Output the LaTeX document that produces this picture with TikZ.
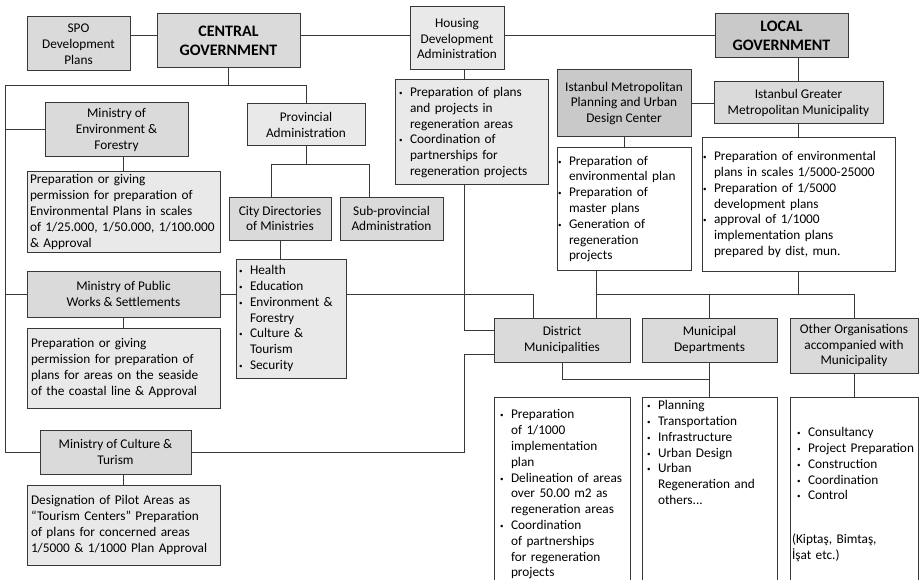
\documentclass[tikz,border=0pt]{standalone}
\usepackage{fontspec}
\setmainfont{Carlito}
\definecolor{boxlight}{gray}{0.915}
\definecolor{boxmid}{gray}{0.855}
\definecolor{boxdark}{gray}{0.79}
\definecolor{edge}{gray}{0.22}
% bullet and hanging indent for the task lists
\newcommand{\bul}{\makebox[11pt][l]{\raisebox{1pt}{\scriptsize\textbullet}}}
\newcommand{\ind}{\hspace*{11pt}}
\begin{document}
\begin{tikzpicture}[x=1pt, y=-1pt, font=\fontsize{13.3}{15.8}\selectfont,
    box/.style={draw=edge, line width=1pt, inner sep=3pt, align=center},
    hdr/.style={box, fill=boxmid},
    lite/.style={box, fill=boxlight},
    gov/.style={box, inner ysep=1pt, font=\fontsize{16}{19}\selectfont\bfseries},
    job/.style={box, fill=boxlight, align=left, inner xsep=4pt},
    duty/.style={box, fill=white, align=left, inner xsep=1pt},
    unit/.style={box, fill=white, align=left, anchor=north, minimum height=194pt},
    link/.style={draw=edge, line width=1pt}]
  \useasboundingbox (0,0) rectangle (920,580);
  \clip (0,0) rectangle (920,580);

  % top row
  \node[hdr, minimum width=103pt, minimum height=54pt] (spo) at (78.5,44) {SPO\\Development\\Plans};
  \node[gov, fill=boxmid, minimum width=143pt, minimum height=54pt] (cgov) at (228.5,41) {CENTRAL\\GOVERNMENT};
  \node[lite, minimum width=94pt, minimum height=63pt] (hda) at (457,38.5) {Housing\\Development\\Administration};
  \node[gov, fill=boxdark, minimum width=133pt, minimum height=44pt] (lgov) at (781.5,36) {LOCAL\\GOVERNMENT};

  % central government side
  \node[hdr, minimum width=143pt, minimum height=54pt] (mef) at (116.5,130) {Ministry of\\Environment \&\\Forestry};
  \node[job, inner xsep=3pt, text width=187pt, minimum height=80pt] (mefjob) at (123.5,212) {Preparation or giving\\permission for preparation of\\Environmental Plans in scales\\\mbox{of 1/25.000, 1/50.000, 1/100.000}\\\& Approval};
  \node[lite, minimum width=118pt, minimum height=42pt] (prov) at (306,125) {Provincial\\Administration};
  \node[hdr, minimum width=102pt, minimum height=43pt] (cdir) at (280,218.5) {City Directories\\of Ministries};
  \node[hdr, minimum width=103pt, minimum height=43pt] (subp) at (391.5,218.5) {Sub-provincial\\Administration};
  \node[job, inner xsep=3pt, text width=104pt, minimum height=119pt] (cdirjob) at (291,318.5) {\bul Health\\\bul Education\\\bul Environment \&\\\ind Forestry\\\bul Culture \&\\\ind Tourism\\\bul Security};
  \node[hdr, minimum width=193pt, minimum height=46pt] (mpw) at (123.5,294) {Ministry of Public\\Works \& Settlements};
  \node[job, text width=185pt, minimum height=80pt] (mpwjob) at (123.5,368) {Preparation or giving\\permission for preparation of\\plans for areas on the seaside\\of the coastal line \& Approval};
  \node[hdr, minimum width=151pt, minimum height=44pt] (mct) at (115.5,452) {Ministry of Culture \&\\Turism};
  \node[job, text width=185pt, minimum height=80pt] (mctjob) at (123.5,525) {Designation of Pilot Areas as\\“Tourism Centers” Preparation\\of plans for concerned areas\\1/5000 \& 1/1000 Plan Approval};
  \node[job, text width=145pt, minimum height=105pt] (hdajob) at (471.5,132.5) {\bul Preparation of plans\\\ind and projects in\\\ind regeneration areas\\\bul Coordination of\\\ind partnerships for\\\ind regeneration projects};

  % local government side
  \node[box, fill=boxdark, minimum width=134pt, minimum height=67pt] (impc) at (624,103.5) {Istanbul Metropolitan\\Planning and Urban\\Design Center};
  \node[hdr, minimum width=169pt, minimum height=42pt] (igmm) at (798.5,103) {Istanbul Greater\\Metropolitan Municipality};
  \node[duty, text width=132pt, minimum height=122pt] (impcjob) at (624,209) {\bul Preparation of\\\ind environmental plan\\\bul Preparation of\\\ind master plans\\\bul Generation of\\\ind regeneration\\\ind projects};
  \node[duty, text width=191pt, minimum height=133pt] (igmmjob) at (798.5,204.5) {\bul Preparation of environmental\\\ind plans in scales 1/5000-25000\\\bul Preparation of 1/5000\\\ind development plans\\\bul approval of 1/1000\\\ind implementation plans\\\ind prepared by dist, mun.};
  \node[hdr, minimum width=136pt, minimum height=44pt] (dmun) at (562,340) {District\\Municipalities};
  \node[hdr, minimum width=135pt, minimum height=44pt] (mdep) at (709.5,340) {Municipal\\Departments};
  \node[hdr, minimum width=128pt, minimum height=55pt] (oorg) at (854,345.5) {Other Organisations\\accompanied with\\Municipality};
  \node[unit, inner xsep=6pt, text width=124pt] (dmunjob) at (562,397) {\bul Preparation\\\ind of 1/1000\\\ind implementation\\\ind plan\\\bul Delineation of areas\\\ind over 50.00 m2 as\\\ind regeneration areas\\\bul Coordination\\\ind of partnerships\\\ind for regeneration\\\ind projects};
  \node[unit, inner xsep=5pt, text width=125pt, text depth=180pt] (mdepjob) at (709.5,397) {\bul Planning\\\bul Transportation\\\bul Infrastructure\\\bul Urban Design\\\bul Urban\\\ind Regeneration and\\\ind others...};
  \node[unit, inner xsep=2pt, text width=124pt] (oorgjob) at (854,397) {\hspace*{5pt}\bul Consultancy\\\hspace*{5pt}\bul Project Preparation\\\hspace*{5pt}\bul Construction\\\hspace*{5pt}\bul Coordination\\\hspace*{5pt}\bul Control\\[28pt](Kiptaş, Bimtaş,\\İşat etc.)};

  % links of the central government
  \draw[link] (spo.east |- lgov) -- (cgov.west |- lgov);
  \draw[link] (cgov.east |- lgov) -- (hda.west |- lgov);
  \draw[link] (hda.east |- lgov) -- (lgov.west);
  \coordinate (cbus) at (5,86);
  \draw[link] (cgov.south) -- (cgov.south |- cbus);
  \draw[link] (prov.north) |- (cbus) |- (mct.west);
  \draw[link] (mef.west) -- (mef.west -| cbus);
  \draw[link] (mpw.west) -- (mpw.west -| cbus);
  \draw[link] (mefjob.north) -- (mefjob.north |- mef.south);
  \draw[link] (mpw.south) -- (mpwjob.north);
  \draw[link] (mctjob.north) -- (mctjob.north |- mct.south);
  \path (prov.south) ++(0,18) coordinate (pbus);
  \draw[link] (prov.south) -- (pbus);
  \draw[link] ([xshift=-9pt]cdir.north) |- (pbus) -| ([xshift=-22pt]subp.north);
  \draw[link] (cdir.south) -- (cdir.south |- cdirjob.north);
  \draw[link] (mpw.east) -- (cdirjob.west |- mpw.east);
  \draw[link] (cdirjob.east |- mpw.east) -| ([xshift=40pt]dmun.north west);

  % housing administration and culture ministry down to the districts
  \coordinate (hdrop) at (464,330);
  \coordinate (cdrop) at (464,354);
  \draw[link] (hda.south -| hdrop) -- (hdajob.north -| hdrop);
  \draw[link] (hdajob.south -| hdrop) -- (hdrop) -- (hdrop -| dmun.west);
  \draw[link] (mct.east) -| (cdrop) -- (cdrop -| dmun.west);

  % links of the local government
  \draw[link] (igmm.north) -- (igmm.north |- lgov.south);
  \draw[link] (impc.east) -- (impc.east -| igmm.west);
  \draw[link] (impc.south) -- (impcjob.north);
  \draw[link] (igmm.south) -- (igmmjob.north);
  \coordinate (lbus) at (596,294);
  \draw[link] (lbus |- impcjob.south) -- (lbus |- dmun.north);
  \draw[link] (lbus) -| (oorg.north);
  \draw[link] (igmmjob.south) -- (igmmjob.south |- lbus);
  \draw[link] (mdep.north) -- (mdep.north |- lbus);
  \path (mdep.south) ++(0,17) coordinate (mbus);
  \draw[link] (dmun.south) |- (mbus);
  \draw[link] (mdep.south) -- (mdepjob.north);
  \draw[link] (oorg.south) -- (oorgjob.north);
\end{tikzpicture}
\end{document}
